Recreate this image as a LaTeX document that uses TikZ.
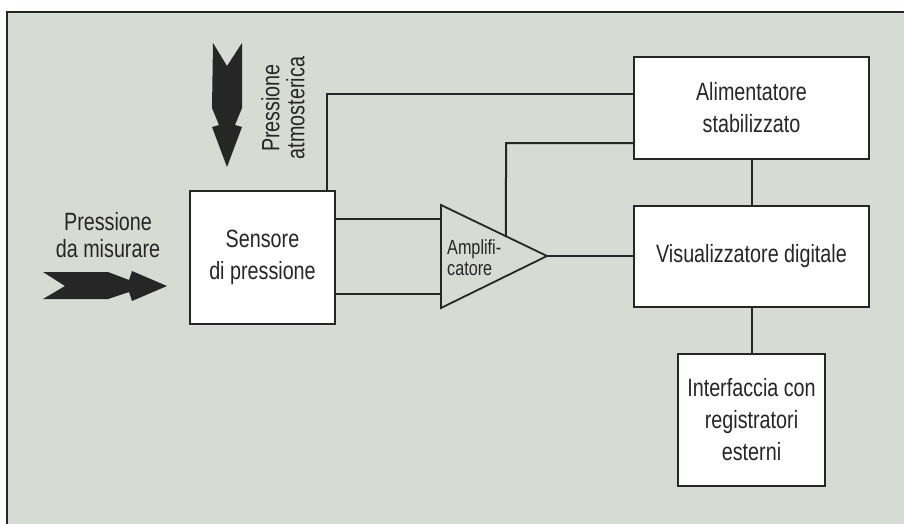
\documentclass[tikz,border=0pt]{standalone}
\usepackage{fontspec}
\setmainfont[FakeStretch=0.79]{Liberation Sans}
\usetikzlibrary{calc}
\definecolor{bg}{RGB}{214,220,211}
\definecolor{ink}{RGB}{38,38,38}
\begin{document}
\begin{tikzpicture}[x=1pt,y=-1pt,
  box/.style={draw=ink,fill=white,line width=1.8pt,inner sep=0pt,align=center,
    text=ink,font=\fontsize{25}{32}\selectfont},
  wire/.style={draw=ink,line width=2pt},
  lbl/.style={align=center,inner sep=0pt,text=ink,font=\fontsize{25}{27}\selectfont},
  bigarrow/.style={fill=ink,draw=none}]
\useasboundingbox (0,0) rectangle (904,524);
\fill[white] (0,0) rectangle (904,524);
\fill[bg] (7,12) rectangle (904,524);
\draw[ink,line width=1.6pt] (7,524) -- (7,12) -- (904,12);

% boxes
\node[box,minimum width=145pt,minimum height=133pt] (sens) at (262.5,257.5) {Sensore\\di pressione};
\node[box,minimum width=235pt,minimum height=102pt] (alim) at (751.5,108) {Alimentatore\\stabilizzato};
\node[box,minimum width=235pt,minimum height=101pt] (vis) at (751.5,256.5) {Visualizzatore digitale};
\node[box,minimum width=147pt,minimum height=132pt] (intf) at (751.5,420) {Interfaccia con\\registratori\\esterni};

% amplifier triangle
\coordinate (ampTop) at (441,205);
\coordinate (ampTip) at (547,256);
\coordinate (ampBot) at (441,308);
\draw[ink,line width=1.8pt,line join=miter] (ampTop) -- (ampTip) -- (ampBot) -- cycle;
\node[anchor=north west,align=left,inner sep=0pt,text=ink,font=\fontsize{20.5}{21}\selectfont] (amptxt) at (447,239) {Amplifi-\\catore};

% connection points
\coordinate (ampIn1) at (441,219);
\coordinate (ampIn2) at (441,294);
\coordinate (ampUp) at ($(ampTop)!0.613!(ampTip)$);
\coordinate (lvl1) at (327,94);
\coordinate (lvl2) at (506,143);

% connectors
\draw[wire] (sens.east |- ampIn1) -- (ampIn1);
\draw[wire] (sens.east |- ampIn2) -- (ampIn2);
\draw[wire] (ampTip) -- (vis.west |- ampTip);
\draw[wire] (sens.north -| lvl1) -- (lvl1) -- (alim.west |- lvl1);
\draw[wire] (ampUp) -- (lvl2) -- (alim.west |- lvl2);
\draw[wire] (alim.south) -- (vis.north);
\draw[wire] (vis.south) -- (intf.north);

% big arrows
\fill[bigarrow] (43,272) -- (108,272) -- (129,280) -- (132,271) -- (167,286)
  -- (132,301) -- (129,292) -- (108,299) -- (43,299) -- (65,286) -- cycle;
\fill[bigarrow] (213,43) -- (227,66) -- (242,43) -- (242,108) -- (235,125)
  -- (242,127) -- (227,167) -- (212,127) -- (219,125) -- (212,108) -- cycle;

% labels
\node[lbl,anchor=north] (lblmis) at (108,212) {Pressione\\da misurare};
\node[align=center,inner sep=0pt,text=ink,font=\fontsize{25}{25}\selectfont,rotate=90] (lblatm) at (283,108) {Pressione\\atmosterica};
\end{tikzpicture}
\end{document}
